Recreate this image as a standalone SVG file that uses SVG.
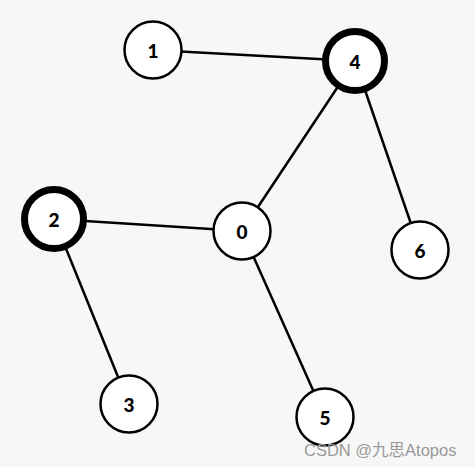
<svg xmlns="http://www.w3.org/2000/svg" width="475" height="467" viewBox="0 0 475 467">
<style>
.n{fill:#fff;stroke:#000;stroke-width:2.5}
.k{stroke-width:7}
.t{font-family:Lato,"Noto Sans",sans-serif;font-weight:900;font-size:19px;fill:#000;text-anchor:middle;dominant-baseline:central}
.e{stroke:#000;stroke-width:2.5;fill:none}
.w{font-family:"Liberation Sans","Noto Sans CJK SC",sans-serif;font-size:16.5px;fill:#999}
</style>
<rect width="475" height="467" fill="#f7f7f7"/>
<g id="edges">
<line class="e" x1="153" y1="50" x2="355" y2="61"/>
<line class="e" x1="355" y1="61" x2="242" y2="231"/>
<line class="e" x1="355" y1="61" x2="420" y2="250"/>
<line class="e" x1="54" y1="219" x2="242" y2="231"/>
<line class="e" x1="54" y1="219" x2="129" y2="404"/>
<line class="e" x1="242" y1="231" x2="325" y2="417"/>
</g>
<g id="node1"><circle class="n" cx="153" cy="50" r="28.5"/><text class="t" x="153" y="50">1</text></g>
<g id="node4"><circle class="n k" cx="355" cy="61" r="29.5"/><text class="t" x="355" y="61">4</text></g>
<g id="node2"><circle class="n k" cx="54" cy="219" r="29.5"/><text class="t" x="54" y="219">2</text></g>
<g id="node0"><circle class="n" cx="242" cy="231" r="28.5"/><text class="t" x="242" y="231">0</text></g>
<g id="node6"><circle class="n" cx="420" cy="250" r="28.5"/><text class="t" x="420" y="250">6</text></g>
<g id="node3"><circle class="n" cx="129" cy="404" r="28.5"/><text class="t" x="129" y="404">3</text></g>
<g id="node5"><circle class="n" cx="325" cy="417" r="28.5"/><text class="t" x="325" y="417">5</text></g>
<text class="w" x="304" y="456">CSDN @九思Atopos</text>
</svg>
